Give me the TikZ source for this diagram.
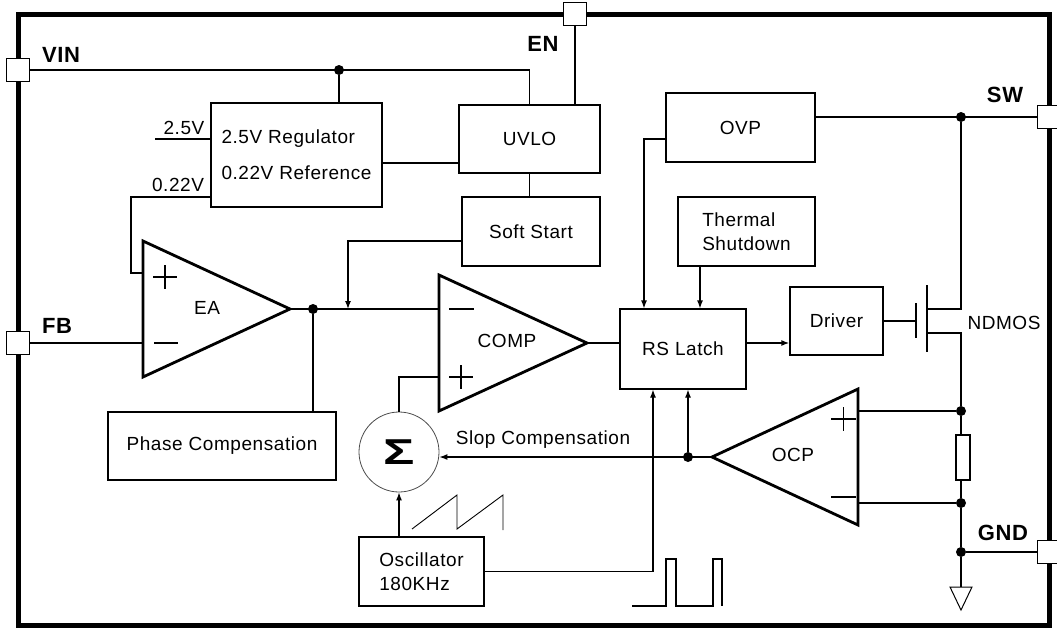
\documentclass[tikz,border=0pt]{standalone}
\usepackage{fontspec}
\setmainfont{Liberation Sans}[LetterSpace=3]
\usetikzlibrary{arrows.meta,positioning,calc}

\tikzset{
  >={Latex[length=8pt,width=6pt]},
  blk/.style={draw, line width=1.2pt, inner sep=0pt, align=left, font=\fontsize{19}{36}\selectfont},
  wire/.style={line width=1.2pt},
  amp/.style={line width=2.8pt, line join=miter},
  pin/.style={draw, fill=white, line width=1pt, minimum width=23pt, minimum height=23pt, inner sep=0pt},
  pinlbl/.style={font=\fontsize{22}{22}\selectfont\bfseries, inner sep=0pt},
  lbl/.style={font=\fontsize{19}{22}\selectfont, inner sep=0pt},
  dot/.style={circle, fill, inner sep=0pt, minimum size=10pt},
}

\begin{document}
\begin{tikzpicture}[x=1pt, y=-1pt]
  \useasboundingbox (0,0) rectangle (1057,629);

  % Chip outline and pins
  \draw[line width=5pt] (18,14) rectangle (1049,625);
  \node[pin] (vin) at (18,70) {};
  \node[pin] (fb) at (18,343) {};
  \node[pin] (en) at (575,14) {};
  \node[pin] (sw) at (1049,117) {};
  \node[pin] (gnd) at (1049,552) {};
  \node[pinlbl] (vinlbl) at (61,55) {VIN};
  \node[pinlbl] (fblbl) at (57,326) {FB};
  \node[pinlbl] (enlbl) at (543,44) {EN};
  \node[pinlbl] (swlbl) at (1005,95) {SW};
  \node[pinlbl] (gndlbl) at (1003,533) {GND};

  % Blocks
  \node[blk, minimum width=171pt, minimum height=104pt] (reg) at (296.5,155) {2.5V Regulator\\0.22V Reference};
  \node[blk, minimum width=141pt, minimum height=68pt] (uvlo) at (529.5,139) {UVLO};
  \node[blk, minimum width=138pt, minimum height=69pt] (ss) at (531,231.5) {Soft Start};
  \node[blk, minimum width=149pt, minimum height=69pt] (ovp) at (740.5,127.5) {OVP};
  \node[blk, minimum width=137pt, minimum height=69pt, font=\fontsize{19}{24}\selectfont] (tsd) at (746.5,231.5) {Thermal\\Shutdown};
  \node[blk, minimum width=126pt, minimum height=80pt] (rs) at (683,349) {RS Latch};
  \node[blk, minimum width=93pt, minimum height=68pt] (drv) at (836.5,321) {Driver};
  \node[blk, minimum width=228pt, minimum height=68pt] (pc) at (222,446) {Phase Compensation};
  \node[blk, minimum width=125pt, minimum height=69pt, font=\fontsize{19}{24}\selectfont] (osc) at (421.5,571.5) {Oscillator\\180KHz};
  \node[circle, draw=gray!60!black, line width=0.8pt, minimum size=80pt, inner sep=0pt,
        font=\fontsize{36}{36}\selectfont\bfseries] (sig) at (399,452) {\scalebox{1.45}[1]{Σ}};

  % Amplifiers
  \draw[amp] (143,241) -- (290,309) -- (143,377) -- cycle;
  \coordinate (eap) at (143,273);
  \coordinate (ean) at (143,343);
  \coordinate (eaout) at (290,309);
  \node[lbl] (ealbl) at (207,308) {EA};
  \draw[wire] (153,277) -- (177,277) (165,265) -- (165,289);
  \draw[wire] (154,343) -- (178,343);

  \draw[amp] (439,275) -- (587,343) -- (439,411) -- cycle;
  \coordinate (compn) at (439,309);
  \coordinate (compp) at (439,377);
  \coordinate (compout) at (587,343);
  \node[lbl] (complbl) at (507,341) {COMP};
  \draw[wire] (449,309) -- (474,309);
  \draw[wire] (449,377) -- (473,377) (461,365) -- (461,389);

  \draw[amp] (858,389) -- (712,457) -- (858,525) -- cycle;
  \coordinate (ocpp) at (858,411);
  \coordinate (ocpn) at (858,503);
  \coordinate (ocpout) at (712,457);
  \node[lbl] (ocplbl) at (793,455) {OCP};
  \draw[wire] (831,419) -- (856,419) (843.5,407) -- (843.5,431);
  \draw[wire] (831,497) -- (856,497);

  % Supply and reference
  \node[dot] (vdot) at (339,70) {};
  \draw[wire] (vin.east) -| (uvlo.north);
  \draw[wire] (vdot) -- (vdot |- reg.north);
  \draw[wire] (en.south) -- (en.south |- uvlo.north);
  \draw[wire] ([yshift=-8pt]reg.east) -- ([yshift=-8pt]reg.east -| uvlo.west);
  \draw[wire] (uvlo.south) -- (uvlo.south |- ss.north);
  \coordinate (v25) at (155,139);
  \draw[wire] (v25) -- (v25 -| reg.west);
  \node[lbl] (v25lbl) at (184,128) {2.5V};
  \draw[wire] ([yshift=-42pt]reg.west) -| ($(eap)+(-12,0)$) -- (eap);
  \node[lbl] (v022lbl) at (178,185) {0.22V};

  % Error amplifier and comparator
  \draw[wire] (fb.east) -- (ean);
  \node[dot] (eadot) at (313,309) {};
  \draw[wire] (eaout) -- (compn);
  \draw[wire] (eadot) -- (eadot |- pc.north);
  \coordinate (ssin) at (348,309);
  \draw[wire, ->] ([yshift=-9.5pt]ss.west) -| (ssin);
  \draw[wire] (compp) -| (sig.north);
  \draw[wire] (compout) -- (compout -| rs.west);

  % Oscillator and slope compensation
  \draw[wire, ->] (sig.south |- osc.north) -- (sig.south);
  \draw[line width=0.9pt] (412,529) -- (457,495) -- (457,529) -- (503,495) -- (503,530);
  \draw[wire, ->] (osc.east) -| ([xshift=-30pt]rs.south);
  \draw[line width=1.2pt] (632,606) -- (666,606) -- (666,559) -- (676,559) -- (676,606)
    -- (713,606) -- (713,559) -- (722,559) -- (722,606);
  \node[dot] (odot) at (688,457) {};
  \draw[wire, ->] (ocpout) -- (ocpout -| sig.east);
  \draw[wire, ->] (odot) -- (odot |- rs.south);
  \node[lbl] (slplbl) at (543,440) {Slop Compensation};

  % Protection inputs to latch
  \draw[wire, ->] ([yshift=-11.5pt]ovp.west) -| ([xshift=-39pt]rs.north);
  \draw[wire, ->] ([xshift=17pt]rs.north |- tsd.south) -- ([xshift=17pt]rs.north);
  \draw[line width=2pt, ->] ([yshift=6pt]rs.east) -- ([yshift=6pt]rs.east -| drv.west);

  % Power switch
  \coordinate (gate) at (916,321);
  \coordinate (drain) at (927,309);
  \coordinate (source) at (927,333);
  \draw[wire] (drv.east) -- (gate);
  \draw[wire] (916,303) -- (916,338);
  \draw[wire] (927,285) -- (927,352);
  \node[lbl] (ndmos) at (1004,323) {NDMOS};
  \node[dot] (swdot) at (961,117) {};
  \draw[wire] (swdot -| ovp.east) -- (sw.west);
  \draw[wire] (swdot) |- (drain);

  % Current sense and ground
  \node[dot] (pdot) at (961,411) {};
  \node[dot] (ndot) at (961,503) {};
  \node[dot] (gdot) at (961,552) {};
  \node[draw, line width=1.2pt, minimum width=14pt, minimum height=45pt, inner sep=0pt] (res) at (963,457.5) {};
  \draw[wire] (source) -| (pdot);
  \draw[wire] (pdot) -- (pdot |- res.north);
  \draw[wire] (ndot |- res.south) -- (ndot) -- (gdot);
  \draw[wire] (ocpp) -- (pdot);
  \draw[wire] (ocpn) -- (ndot);
  \draw[wire] (gdot) -- (gnd.west);
  \coordinate (gtri) at (961,587);
  \draw[wire] (gdot) -- (gtri);
  \draw[line width=1pt] ($(gtri)+(-11,0)$) -- ($(gtri)+(11,0)$) -- ($(gtri)+(0,23)$) -- cycle;
\end{tikzpicture}
\end{document}
